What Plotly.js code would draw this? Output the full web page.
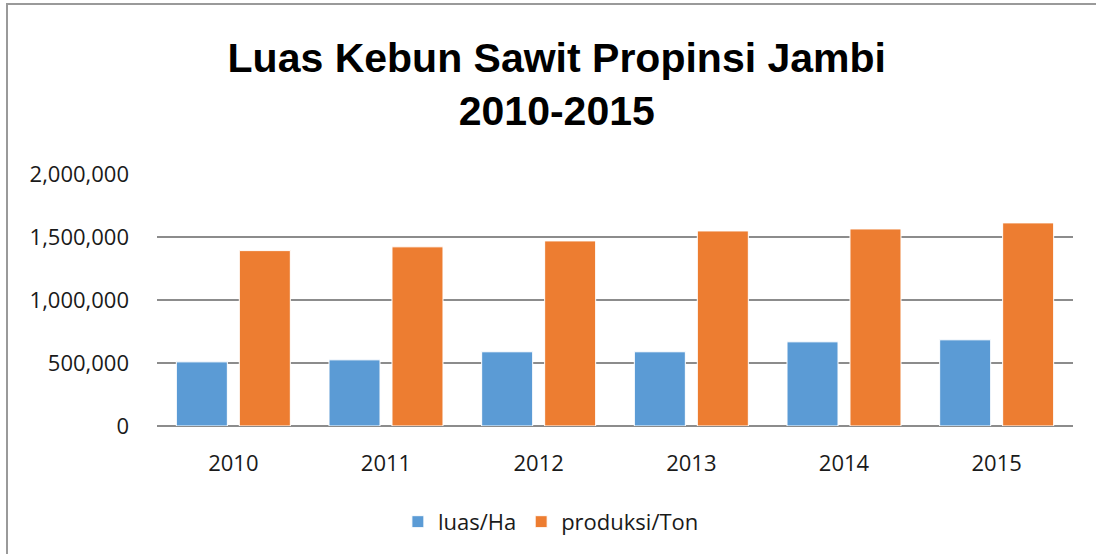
<!DOCTYPE html>
<html>
<head>
<meta charset="utf-8">
<script src="https://cdn.plot.ly/plotly-3.0.1.min.js"></script>
<style>
  html, body { margin: 0; padding: 0; background: #fff; }
  #wrap { position: relative; width: 1096px; height: 554px; overflow: hidden; }
  #chart { position: absolute; left: 0; top: 0; width: 1096px; height: 554px; }
  #frame { position: absolute; left: 6px; top: 3px; width: 1200px; height: 700px;
           border: 2px solid #9a9a9a; pointer-events: none; box-sizing: border-box; }
</style>
</head>
<body>
<div id="wrap">
  <div id="chart"></div>
  <div id="frame"></div>
</div>
<script>
const years = ['2010', '2011', '2012', '2013', '2014', '2015'];
const luasHa = [509000, 525000, 589000, 589000, 668000, 684000];
const produksiTon = [1392000, 1422000, 1469000, 1548000, 1564000, 1612000];
const seriesNames = ['luas/Ha', 'produksi/Ton'];
const yTicks = [0, 500000, 1000000, 1500000, 2000000];

const tickFont = { family: 'Open Sans, sans-serif', size: 22, color: '#1a1a1a' };

const traces = [
  { type: 'bar', name: seriesNames[0], x: years, y: luasHa,
    marker: { color: '#5B9BD5', line: { color: '#ffffff', width: 1 } } },
  { type: 'bar', name: seriesNames[1], x: years, y: produksiTon,
    marker: { color: '#ED7D31', line: { color: '#ffffff', width: 1 } } }
];

const layout = {
  width: 1096, height: 554,
  margin: { l: 157, r: 23, t: 174, b: 127 },
  paper_bgcolor: '#ffffff', plot_bgcolor: '#ffffff',
  barmode: 'group', bargap: 0.175, bargroupgap: 0.19,
  title: {
    text: '<b>Luas Kebun Sawit Propinsi Jambi<br>2010-2015</b>',
    font: { family: 'Liberation Sans, Arial, sans-serif', size: 41, color: '#000000' },
    x: 0.508, xanchor: 'center', xref: 'container',
    y: 0.87, yanchor: 'top', yref: 'container'
  },
  xaxis: {
    type: 'category', tickfont: tickFont, showgrid: false, zeroline: false,
    showline: false, ticks: '', ticklabelstandoff: 22
  },
  yaxis: {
    range: [0, 2000000], tickvals: yTicks, tickformat: ',d', tickfont: tickFont,
    showgrid: true, gridcolor: '#8c8c8c', gridwidth: 1.5,
    zeroline: true, zerolinecolor: '#8c8c8c', zerolinewidth: 2,
    showline: false, ticks: '', ticklabelstandoff: 27
  },
  legend: {
    orientation: 'h', x: 0.43, xanchor: 'center', y: -0.375, yanchor: 'middle',
    font: tickFont, itemwidth: 30, traceorder: 'normal'
  },
  showlegend: true
};

Plotly.newPlot('chart', traces, layout, { displayModeBar: false, staticPlot: true });
</script>
</body>
</html>
